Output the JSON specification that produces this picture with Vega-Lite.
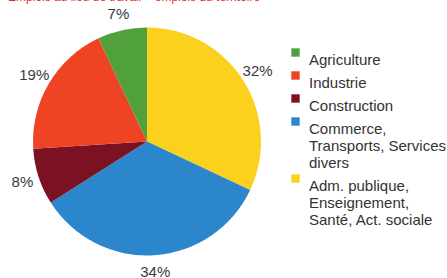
{
  "$schema": "https://vega.github.io/schema/vega-lite/v6.json",
  "autosize": "none",
  "padding": {"left": 0, "top": 0, "right": 153, "bottom": 0},
  "width": 294,
  "height": 283,
  "background": "white",
  "title": {
    "text": "Emplois au lieu de travail – emplois du territoire",
    "anchor": "start",
    "frame": "group",
    "offset": -4,
    "dx": 8,
    "color": "#ee2a1e",
    "font": "Liberation Sans",
    "fontSize": 12,
    "fontWeight": "normal"
  },
  "data": {
    "values": [
      {"secteur": "Adm. publique,|Enseignement,|Santé, Act. sociale", "part": 32, "ordre": 1, "label": "32%"},
      {"secteur": "Commerce,|Transports, Services|divers", "part": 34, "ordre": 2, "label": "34%"},
      {"secteur": "Construction", "part": 8, "ordre": 3, "label": "8%"},
      {"secteur": "Industrie", "part": 19, "ordre": 4, "label": "19%"},
      {"secteur": "Agriculture", "part": 7, "ordre": 5, "label": "7%"}
    ]
  },
  "encoding": {
    "theta": {"field": "part", "type": "quantitative", "stack": true},
    "order": {"field": "ordre", "type": "quantitative"}
  },
  "layer": [
    {
      "mark": {"type": "arc", "outerRadius": 114},
      "encoding": {
        "color": {
          "field": "secteur",
          "type": "nominal",
          "scale": {
            "domain": ["Agriculture", "Industrie", "Construction", "Commerce,|Transports, Services|divers", "Adm. publique,|Enseignement,|Santé, Act. sociale"],
            "range": ["#50a03c", "#ef4423", "#7b1221", "#2b86cb", "#fcd11d"]
          },
          "legend": {
            "title": null,
            "orient": "none",
            "legendX": 288,
            "legendY": 45,
            "symbolType": "square",
            "symbolSize": 70,
            "symbolStrokeWidth": 0,
            "labelFont": "Liberation Sans",
            "labelFontSize": 15,
            "labelColor": "#333333",
            "labelLimit": 200,
            "labelOffset": 6,
            "rowPadding": 0,
            "labelBaseline": "top",
            "labelExpr": "split(datum.label, '|')"
          }
        }
      }
    },
    {
      "mark": {"type": "text", "radius": 131, "font": "Liberation Sans", "fontSize": 15, "color": "#3a3a3a", "letterSpacing": -0.5},
      "encoding": {
        "text": {"field": "label", "type": "nominal"}
      }
    }
  ]
}
